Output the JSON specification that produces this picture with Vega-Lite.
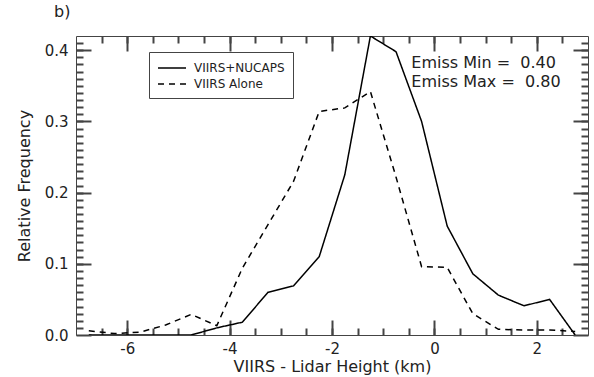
{
  "$schema": "https://vega.github.io/schema/vega-lite/v6.json",
  "width": 512,
  "height": 299,
  "autosize": {"type": "none"},
  "padding": {"left": 76, "top": 36, "right": 6, "bottom": 42},
  "background": "white",
  "config": {
    "view": {"stroke": "#444", "strokeWidth": 1},
    "font": "DejaVu Sans",
    "axis": {
      "domain": false,
      "grid": false,
      "labelFont": "DejaVu Sans",
      "labelFontSize": 15,
      "labelColor": "#222",
      "titleFont": "DejaVu Sans",
      "titleFontSize": 16,
      "titleFontWeight": "normal",
      "titleColor": "#222"
    },
    "legend": {
      "labelFont": "DejaVu Sans",
      "labelFontSize": 12,
      "labelColor": "#222"
    }
  },
  "title": {
    "text": "b)",
    "anchor": "start",
    "frame": "group",
    "orient": "top",
    "offset": 2,
    "dx": -22,
    "baseline": "alphabetic",
    "font": "DejaVu Sans",
    "fontSize": 16,
    "fontWeight": "normal",
    "color": "#222"
  },
  "datasets": {
    "freq": [
      {"series": "VIIRS+NUCAPS", "height": -6.75, "freq": 0.0},
      {"series": "VIIRS+NUCAPS", "height": -6.25, "freq": 0.0},
      {"series": "VIIRS+NUCAPS", "height": -5.75, "freq": 0.0},
      {"series": "VIIRS+NUCAPS", "height": -5.25, "freq": 0.0},
      {"series": "VIIRS+NUCAPS", "height": -4.75, "freq": 0.0},
      {"series": "VIIRS+NUCAPS", "height": -4.25, "freq": 0.010},
      {"series": "VIIRS+NUCAPS", "height": -3.75, "freq": 0.018},
      {"series": "VIIRS+NUCAPS", "height": -3.25, "freq": 0.060},
      {"series": "VIIRS+NUCAPS", "height": -2.75, "freq": 0.069},
      {"series": "VIIRS+NUCAPS", "height": -2.25, "freq": 0.110},
      {"series": "VIIRS+NUCAPS", "height": -1.75, "freq": 0.225},
      {"series": "VIIRS+NUCAPS", "height": -1.25, "freq": 0.420},
      {"series": "VIIRS+NUCAPS", "height": -0.75, "freq": 0.398},
      {"series": "VIIRS+NUCAPS", "height": -0.25, "freq": 0.300},
      {"series": "VIIRS+NUCAPS", "height": 0.25, "freq": 0.153},
      {"series": "VIIRS+NUCAPS", "height": 0.75, "freq": 0.086},
      {"series": "VIIRS+NUCAPS", "height": 1.25, "freq": 0.056},
      {"series": "VIIRS+NUCAPS", "height": 1.75, "freq": 0.041},
      {"series": "VIIRS+NUCAPS", "height": 2.25, "freq": 0.050},
      {"series": "VIIRS+NUCAPS", "height": 2.75, "freq": 0.0},
      {"series": "VIIRS Alone", "height": -6.75, "freq": 0.006},
      {"series": "VIIRS Alone", "height": -6.25, "freq": 0.002},
      {"series": "VIIRS Alone", "height": -5.75, "freq": 0.004},
      {"series": "VIIRS Alone", "height": -5.25, "freq": 0.014},
      {"series": "VIIRS Alone", "height": -4.75, "freq": 0.029},
      {"series": "VIIRS Alone", "height": -4.25, "freq": 0.013},
      {"series": "VIIRS Alone", "height": -3.75, "freq": 0.094},
      {"series": "VIIRS Alone", "height": -3.25, "freq": 0.155},
      {"series": "VIIRS Alone", "height": -2.75, "freq": 0.216},
      {"series": "VIIRS Alone", "height": -2.25, "freq": 0.314},
      {"series": "VIIRS Alone", "height": -1.75, "freq": 0.319},
      {"series": "VIIRS Alone", "height": -1.25, "freq": 0.342},
      {"series": "VIIRS Alone", "height": -0.75, "freq": 0.222},
      {"series": "VIIRS Alone", "height": -0.25, "freq": 0.096},
      {"series": "VIIRS Alone", "height": 0.25, "freq": 0.095},
      {"series": "VIIRS Alone", "height": 0.75, "freq": 0.030},
      {"series": "VIIRS Alone", "height": 1.25, "freq": 0.008},
      {"series": "VIIRS Alone", "height": 1.75, "freq": 0.007},
      {"series": "VIIRS Alone", "height": 2.25, "freq": 0.007},
      {"series": "VIIRS Alone", "height": 2.75, "freq": 0.005}
    ],
    "notes": [
      {"line": 1}
    ]
  },
  "resolve": {"axis": {"x": "independent", "y": "independent"}},
  "layer": [
    {
      "data": {"name": "freq"},
      "transform": [{"filter": "datum.series === 'VIIRS+NUCAPS'"}],
      "mark": {"type": "line", "color": "black", "strokeWidth": 1.5, "clip": true},
      "encoding": {
        "x": {
          "field": "height", "type": "quantitative",
          "scale": {"domain": [-7, 3], "nice": false, "zero": false},
          "axis": {
            "orient": "bottom", "values": [-6, -4, -2, 0, 2],
            "ticks": true, "tickColor": "#444", "tickWidth": 2,
            "tickSize": -15, "labelPadding": 21,
            "labelExpr": "toString(datum.value)",
            "title": "VIIRS - Lidar Height (km)", "titlePadding": 2
          }
        },
        "y": {
          "field": "freq", "type": "quantitative",
          "scale": {"domain": [0, 0.42], "nice": false},
          "axis": {
            "orient": "left", "values": [0, 0.1, 0.2, 0.3, 0.4],
            "ticks": true, "tickColor": "#444", "tickWidth": 2,
            "format": ".1f", "tickSize": -15, "labelPadding": 23,
            "title": "Relative Frequency", "titlePadding": 12
          }
        },
        "strokeDash": {
          "field": "series", "type": "nominal",
          "scale": {"domain": ["VIIRS+NUCAPS", "VIIRS Alone"], "range": [[1, 0], [6, 5]]},
          "legend": {
            "title": null, "orient": "none", "legendX": 73, "legendY": 16,
            "symbolType": "M-1,0H3", "symbolSize": 196,
            "symbolStrokeColor": "black", "symbolStrokeWidth": 1.5,
            "labelFont": "DejaVu Sans", "labelFontSize": 12, "labelColor": "#222",
            "labelOffset": 21, "strokeColor": "#444", "fillColor": "white",
            "padding": 8, "rowPadding": 2
          }
        }
      }
    },
    {
      "data": {"name": "freq"},
      "transform": [{"filter": "datum.series === 'VIIRS Alone'"}],
      "mark": {"type": "line", "color": "black", "strokeWidth": 1.5, "clip": true},
      "encoding": {
        "x": {
          "field": "height", "type": "quantitative",
          "axis": {
            "orient": "bottom",
            "values": [-6.5, -6, -5.5, -5, -4.5, -4, -3.5, -3, -2.5, -2, -1.5, -1, -0.5, 0, 0.5, 1, 1.5, 2, 2.5],
            "ticks": true, "tickColor": "#444", "tickWidth": 2,
            "tickSize": -7, "labels": false, "title": null
          }
        },
        "y": {
          "field": "freq", "type": "quantitative",
          "axis": {
            "orient": "left",
            "values": [0.01,0.02,0.03,0.04,0.05,0.06,0.07,0.08,0.09,0.1,0.11,0.12,0.13,0.14,0.15,0.16,0.17,0.18,0.19,0.2,0.21,0.22,0.23,0.24,0.25,0.26,0.27,0.28,0.29,0.3,0.31,0.32,0.33,0.34,0.35,0.36,0.37,0.38,0.39,0.4,0.41],
            "ticks": true, "tickColor": "#444", "tickWidth": 2,
            "tickSize": -7, "labels": false, "title": null
          }
        },
        "strokeDash": {
          "field": "series", "type": "nominal",
          "legend": {
            "title": null, "orient": "none", "legendX": 73, "legendY": 16,
            "symbolType": "M-1,0H3", "symbolSize": 196,
            "symbolStrokeColor": "black", "symbolStrokeWidth": 1.5,
            "labelFont": "DejaVu Sans", "labelFontSize": 12, "labelColor": "#222",
            "labelOffset": 21, "strokeColor": "#444", "fillColor": "white",
            "padding": 8, "rowPadding": 2
          }
        }
      }
    },
    {
      "data": {"name": "notes"},
      "mark": {"type": "text", "align": "left", "baseline": "alphabetic", "font": "DejaVu Sans", "fontSize": 16, "color": "#222"},
      "encoding": {
        "x": {
          "datum": -0.45, "type": "quantitative",
          "axis": {"orient": "top", "values": [-6, -4, -2, 0, 2], "ticks": true, "tickColor": "#444", "tickWidth": 2, "tickSize": -15, "labels": false, "title": null}
        },
        "y": {
          "datum": 0.3756, "type": "quantitative",
          "axis": {"orient": "right", "values": [0, 0.1, 0.2, 0.3, 0.4], "ticks": true, "tickColor": "#444", "tickWidth": 2, "tickSize": -15, "labels": false, "title": null}
        },
        "text": {"value": "Emiss Min =\u00a0 0.40"}
      }
    },
    {
      "data": {"name": "notes"},
      "mark": {"type": "text", "align": "left", "baseline": "alphabetic", "font": "DejaVu Sans", "fontSize": 16, "color": "#222"},
      "encoding": {
        "x": {
          "datum": -0.45, "type": "quantitative",
          "axis": {
            "orient": "top",
            "values": [-6.5, -6, -5.5, -5, -4.5, -4, -3.5, -3, -2.5, -2, -1.5, -1, -0.5, 0, 0.5, 1, 1.5, 2, 2.5],
            "ticks": true, "tickColor": "#444", "tickWidth": 2,
            "tickSize": -7, "labels": false, "title": null
          }
        },
        "y": {
          "datum": 0.348, "type": "quantitative",
          "axis": {
            "orient": "right",
            "values": [0.01,0.02,0.03,0.04,0.05,0.06,0.07,0.08,0.09,0.1,0.11,0.12,0.13,0.14,0.15,0.16,0.17,0.18,0.19,0.2,0.21,0.22,0.23,0.24,0.25,0.26,0.27,0.28,0.29,0.3,0.31,0.32,0.33,0.34,0.35,0.36,0.37,0.38,0.39,0.4,0.41],
            "ticks": true, "tickColor": "#444", "tickWidth": 2,
            "tickSize": -7, "labels": false, "title": null
          }
        },
        "text": {"value": "Emiss Max =\u00a0 0.80"}
      }
    }
  ]
}
